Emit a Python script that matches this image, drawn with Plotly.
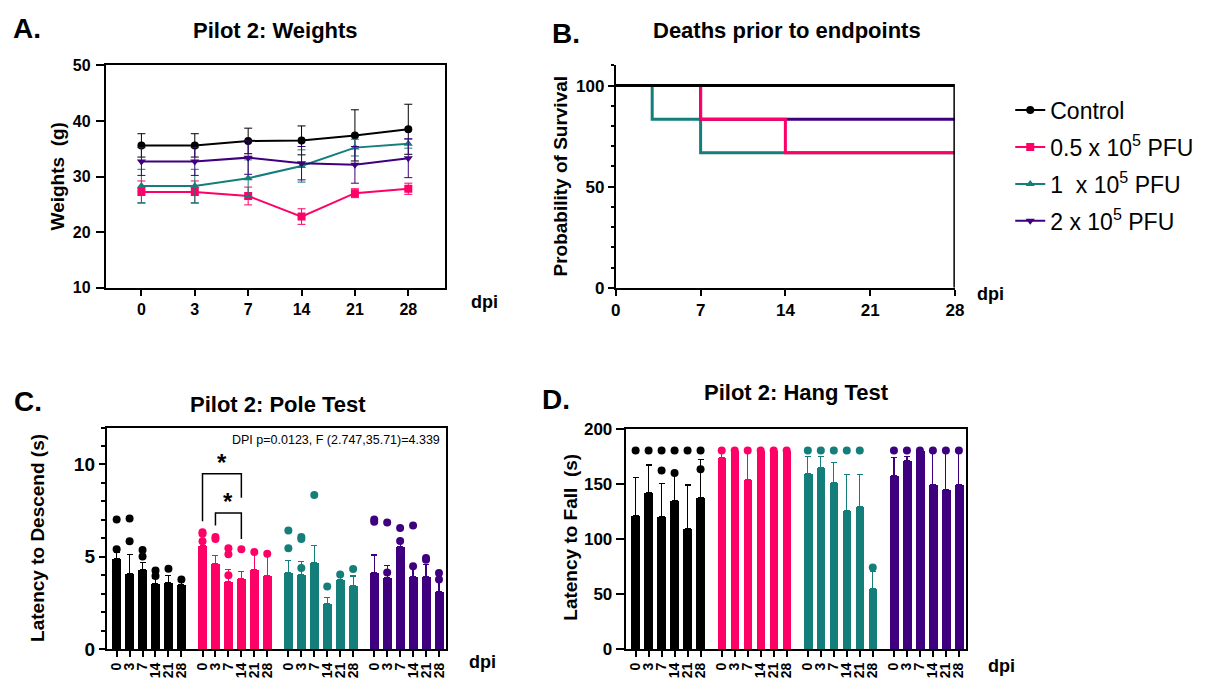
import plotly.graph_objects as go

W, H = 1211, 694
def px(x): return x / W
def py(y): return 1 - y / H

FONT = "Liberation Sans, Arial, sans-serif"

# ---------------- data ----------------
dpi_labels = ["0", "3", "7", "14", "21", "28"]
group_names = ["Control", "0.5 x 10<sup>5</sup> PFU", "1  x 10<sup>5</sup> PFU", "2 x 10<sup>5</sup> PFU"]
group_colors = ["#000000", "#FF0066", "#137E7A", "#3E007F"]
group_symbols = ["circle", "square", "triangle-up", "triangle-down"]

# A. weights (g)
weight_control = [35.6, 35.6, 36.4, 36.5, 37.4, 38.5]
weight_control_err = [2.1, 2.1, 2.3, 2.6, 4.6, 4.5]
weight_05 = [27.2, 27.2, 26.5, 22.8, 27.0, 27.8]
weight_05_err = [2.0, 2.0, 1.6, 1.4, 0.8, 1.0]
weight_1 = [28.3, 28.3, 29.7, 31.9, 35.2, 35.9]
weight_1_err = [3.0, 3.0, 3.3, 2.9, 1.5, 0.8]
weight_2 = [32.7, 32.7, 33.4, 32.4, 32.1, 33.3]
weight_2_err = [2.5, 2.5, 3.0, 3.0, 3.3, 3.5]

# B. survival (step curves)
surv_ticks = [0, 7, 14, 21, 28]
surv_control_days = [0, 28, 28]
surv_control = [100, 100, 0]
surv_05_days = [0, 7, 14, 28]
surv_05 = [100, 83.3, 66.7, 66.7]
surv_1_days = [0, 3, 7, 28]
surv_1 = [100, 83.3, 66.7, 66.7]
surv_2_days = [0, 7, 28]
surv_2 = [100, 83.3, 83.3]

# C. pole test (s)
pole_control = [4.91, 4.07, 4.30, 3.56, 3.61, 3.49]
pole_control_err = [0.32, 1.07, 0.37, 0.26, 0.39, 0.16]
pole_05 = [5.58, 4.61, 3.65, 3.79, 4.30, 4.00]
pole_05_err = [0.30, 0.44, 0.67, 0.39, 0.95, 1.16]
pole_1 = [4.16, 4.04, 4.68, 2.46, 3.74, 3.46]
pole_1_err = [0.63, 0.70, 0.93, 0.31, 0.30, 0.50]
pole_2 = [4.16, 3.86, 5.53, 3.91, 3.95, 3.10]
pole_2_err = [0.93, 0.67, 0.22, 0.50, 0.65, 0.90]
pole_control_pts = [[7.02, 5.40], [7.07, 5.84], [5.37, 5.02], [4.26, 3.96], [4.35], [3.77]]
pole_05_pts = [[6.33, 6.25, 5.84], [6.07, 5.96], [5.46, 5.14, 4.00], [5.40], [5.26], [5.16]]
pole_1_pts = [[6.42, 5.46], [6.07, 5.96, 4.39], [8.35], [3.39], [4.04], [4.33]]
pole_2_pts = [[7.02, 6.90], [6.86, 4.14], [6.56, 5.86], [6.70, 4.49], [4.93, 4.84], [4.12, 3.77]]
pole_stat_text = "DPI p=0.0123, F (2.747,35.71)=4.339"
# significance brackets in group "0.5": (from dpi index, to dpi index, top, left-leg bottom, right-leg bottom, star y)
pole_brackets = [(0, 3, 9.5, 6.93, 8.2, 10.1), (1, 3, 7.37, 6.7, 5.96, 8.0)]

# D. hang test (s)
hang_control = [121, 142, 120, 135, 109.5, 137.6]
hang_control_err = [34.5, 25, 30, 23, 39.3, 34.4]
hang_05 = [174, 180, 154, 180, 180, 180]
hang_05_err = [6, 0, 26, 0, 0, 0]
hang_1 = [159, 165, 150.8, 126, 129.4, 54.8]
hang_1_err = [16, 10, 18.2, 32.4, 29, 15.2]
hang_2 = [157, 170.7, 180, 149, 145, 148.8]
hang_2_err = [17, 4.3, 0, 31, 35, 31.2]
hang_control_pts = [[180], [180], [180, 162], [180, 159.6], [180], [180, 163]]
hang_05_pts = [[180], [180], [180], [180], [180], [180]]
hang_1_pts = [[180], [180], [180], [180], [180], [74]]
hang_2_pts = [[180], [180], [180], [180], [180], [180]]

weights = [weight_control, weight_05, weight_1, weight_2]
weights_err = [weight_control_err, weight_05_err, weight_1_err, weight_2_err]
surv_days = [surv_control_days, surv_05_days, surv_1_days, surv_2_days]
surv_vals = [surv_control, surv_05, surv_1, surv_2]
pole = [pole_control, pole_05, pole_1, pole_2]
pole_err = [pole_control_err, pole_05_err, pole_1_err, pole_2_err]
pole_pts = [pole_control_pts, pole_05_pts, pole_1_pts, pole_2_pts]
hang = [hang_control, hang_05, hang_1, hang_2]
hang_err = [hang_control_err, hang_05_err, hang_1_err, hang_2_err]
hang_pts = [hang_control_pts, hang_05_pts, hang_1_pts, hang_2_pts]

GAP = 0.63
def bar_pos(g, i):
    return g * (6 + GAP) + i

fig = go.Figure()

# ---------------- A ----------------
for g in range(4):
    fig.add_trace(go.Scatter(
        x=list(range(6)), y=weights[g], mode="lines+markers",
        name=group_names[g], legendgroup=f"g{g}",
        line=dict(color=group_colors[g], width=2),
        marker=dict(symbol=group_symbols[g], size=8, color=group_colors[g]),
        error_y=dict(type="data", array=weights_err[g], color=group_colors[g], thickness=1, width=4),
        xaxis="x", yaxis="y", showlegend=True))

# ---------------- B ----------------
for g in [2, 3, 1, 0]:
    fig.add_trace(go.Scatter(
        x=surv_days[g], y=surv_vals[g], mode="lines", line_shape="hv",
        line=dict(color=group_colors[g], width=3),
        xaxis="x2", yaxis="y2", showlegend=False, hoverinfo="skip"))

# ---------------- C & D bars ----------------
def add_bars(means, errs, pts, xa, ya):
    for g in range(4):
        xs = [bar_pos(g, i) for i in range(6)]
        fig.add_trace(go.Bar(
            x=xs, y=means[g], width=0.68,
            marker=dict(color=group_colors[g], line=dict(width=0)),
            error_y=dict(type="data", symmetric=False, array=errs[g], arrayminus=[0]*6,
                         color=group_colors[g], thickness=1.2, width=3),
            xaxis=xa, yaxis=ya, showlegend=False))
    for g in range(4):
        sx, sy = [], []
        for i in range(6):
            for v in pts[g][i]:
                sx.append(bar_pos(g, i)); sy.append(v)
        fig.add_trace(go.Scatter(
            x=sx, y=sy, mode="markers",
            marker=dict(size=8, color=group_colors[g]),
            xaxis=xa, yaxis=ya, showlegend=False))

add_bars(pole, pole_err, pole_pts, "x3", "y3")
add_bars(hang, hang_err, hang_pts, "x4", "y4")

# brackets
shapes = []
annotations = []
for (a, b, top, lb, rb, sy) in pole_brackets:
    xa_, xb_ = bar_pos(1, a), bar_pos(1, b)
    shapes.append(dict(type="path", xref="x3", yref="y3",
                       path=f"M {xa_} {lb} L {xa_} {top} L {xb_} {top} L {xb_} {rb}",
                       line=dict(color="black", width=1.5)))
    annotations.append(dict(x=(xa_ + xb_) / 2, y=sy, xref="x3", yref="y3", text="<b>*</b>",
                            showarrow=False, font=dict(size=24, color="black", family=FONT),
                            yanchor="middle"))

# ---------------- axes ----------------
ax = dict(showline=True, linecolor="black", linewidth=2, ticks="outside", tickcolor="black",
          tickwidth=2, showgrid=False, zeroline=False,
          tickfont=dict(family=FONT, size=16, color="black", weight="bold"))

all_pos = [bar_pos(g, i) for g in range(4) for i in range(6)]
all_lab = dpi_labels * 4

fig.update_layout(
    width=W, height=H, margin=dict(l=0, r=0, t=0, b=0),
    paper_bgcolor="white", plot_bgcolor="white",
    font=dict(family=FONT, color="black"),
    bargap=0,
    xaxis=dict(ax, domain=[px(102), px(445)], anchor="y", range=[-0.667, 5.685],
               tickvals=list(range(6)), ticktext=dpi_labels, mirror=True, ticklen=6,
               ticklabelstandoff=0),
    yaxis=dict(ax, domain=[py(287), py(58)], anchor="x", range=[10, 50], dtick=10,
               mirror=True, ticklen=8, ticklabelstandoff=2),
    xaxis2=dict(ax, domain=[px(618), px(961)], anchor="y2", range=[0, 28],
                tickvals=surv_ticks, ticklen=6, ticklabelstandoff=0,
                tickfont=dict(family=FONT, size=17, color="black", weight="bold")),
    yaxis2=dict(ax, domain=[py(287), py(58)], anchor="x2", range=[0, 110],
                tickvals=[0, 50, 100], ticklen=6,
                tickfont=dict(family=FONT, size=17, color="black", weight="bold"),
                minor=dict(ticks="outside", dtick=10, tick0=0, ticklen=3, tickcolor="black", tickwidth=2)),
    xaxis3=dict(ax, domain=[px(103), px(446)], anchor="y3", range=[-0.76, 25.42],
                tickvals=all_pos, ticktext=all_lab, tickangle=-90, mirror=True, ticklen=6,
                tickfont=dict(family=FONT, size=14, color="black", weight="bold")),
    yaxis3=dict(ax, domain=[py(659), py(431)], anchor="x3", range=[0, 12],
                tickvals=[0, 5, 10], mirror=True, ticklen=6,
                tickfont=dict(family=FONT, size=19, color="black", weight="bold"),
                minor=dict(ticks="outside", dtick=1, tick0=0, ticklen=4, tickcolor="black", tickwidth=1.5)),
    xaxis4=dict(ax, domain=[px(628), px(972)], anchor="y4", range=[-0.76, 25.42],
                tickvals=all_pos, ticktext=all_lab, tickangle=-90, mirror=True, ticklen=6,
                tickfont=dict(family=FONT, size=14, color="black", weight="bold")),
    yaxis4=dict(ax, domain=[py(659), py(432)], anchor="x4", range=[0, 200],
                dtick=50, mirror=True, ticklen=8,
                tickfont=dict(family=FONT, size=17, color="black", weight="bold")),
    legend=dict(x=px(1017), y=py(82), xanchor="left", yanchor="top",
                font=dict(family=FONT, size=23, color="black"),
                tracegroupgap=4, bgcolor="rgba(0,0,0,0)"),
)

def txt(x, y, s, size, bold=True, angle=0, xanchor="center"):
    annotations.append(dict(x=px(x), y=py(y), xref="paper", yref="paper", text=s,
                            showarrow=False, textangle=angle, xanchor=xanchor, yanchor="middle",
                            font=dict(family=FONT, size=size, color="black",
                                      weight="bold" if bold else "normal")))

# panel letters and titles
txt(22, 20, "A.", 28)
txt(274, 22, "Pilot 2: Weights", 22)
txt(568, 25, "B.", 28)
txt(791, 22, "Deaths prior to endpoints", 22)
txt(23, 404, "C.", 28)
txt(276, 407, "Pilot 2: Pole Test", 22)
txt(557, 402, "D.", 28)
txt(801, 395, "Pilot 2: Hang Test", 22)
# axis titles
txt(53, 172, "Weights \u00a0(g)", 19, angle=-90)
txt(485, 302, "dpi", 18)
txt(562, 172, "Probability of Survival", 19, angle=-90)
txt(997, 293, "dpi", 18)
txt(33, 545, "Latency to Descend (s)", 19, angle=-90)
txt(483, 672, "dpi", 18)
txt(572, 544, "Latency to Fall \u00a0(s)", 19, angle=-90)
txt(1008, 676, "dpi", 18)
txt(442, 444, pole_stat_text, 12.5, bold=False, xanchor="right")

fig.update_layout(shapes=shapes, annotations=annotations)
fig.write_html("out.html", config={"displayModeBar": False},
               post_script="document.body.style.margin='0';")
